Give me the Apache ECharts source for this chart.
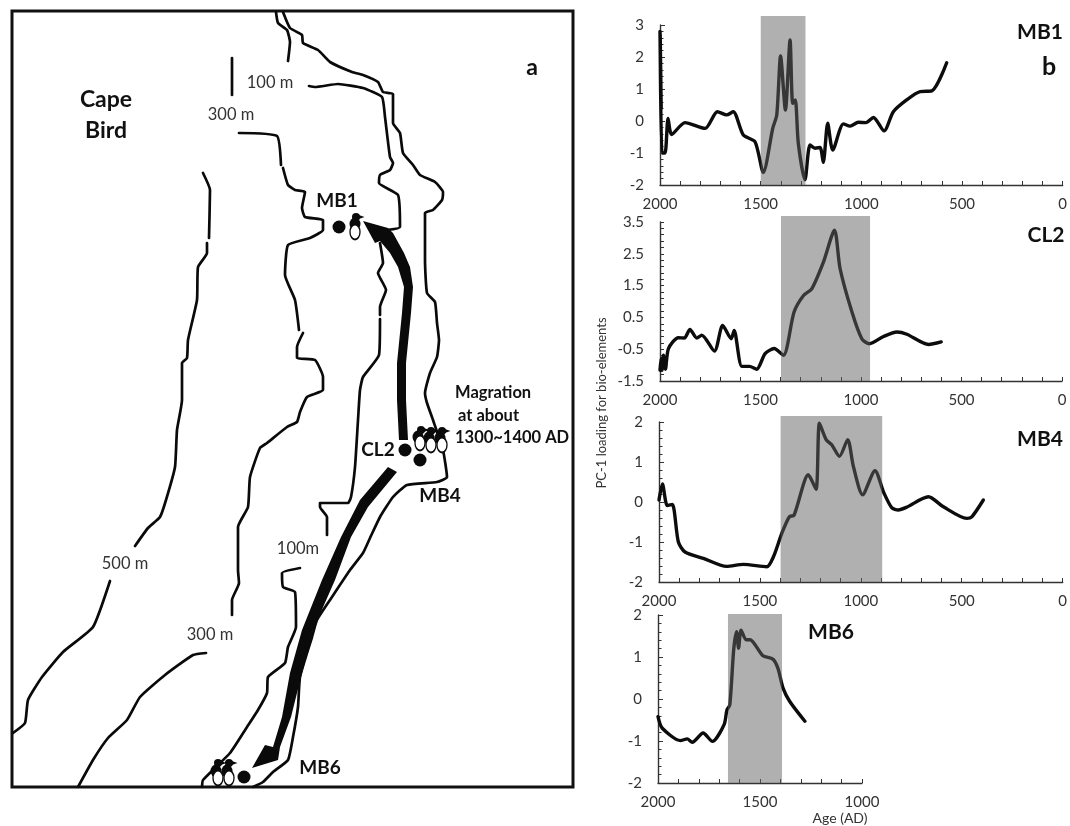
<!DOCTYPE html>
<html><head><meta charset="utf-8">
<style>html,body{margin:0;padding:0;background:#fff}#c{width:1070px;height:826px}</style>
<script src="https://cdn.jsdelivr.net/npm/echarts@6/dist/echarts.min.js"></script>
</head><body><div id="c"></div>
<script>
// ---- panel b: [age AD, PC-1 loading]
const mb1Values=[[2000,2.8],[1997,0.9],[1999,2.7],[1994,0.4],[1998,1.8],[1990,-1],[1975,-1],[1960,0.08],[1942,-0.42],[1876,-0.05],[1776,-0.23],[1715,0.29],[1669,0.19],[1636,0.29],[1586,-0.44],[1528,-0.65],[1487,-1.61],[1440,-0.23],[1420,0.19],[1401,2.03],[1377,0.34],[1354,2.53],[1341,0.55],[1328,0.66],[1313,-0.7],[1280,-1.84],[1255,-0.75],[1230,-0.85],[1205,-0.83],[1189,-1.29],[1167,-0.07],[1142,-0.91],[1089,-0.09],[1056,-0.16],[1015,-0.04],[977,-0.05],[940,0.11],[887,-0.31],[841,0.29],[775,0.66],[708,0.92],[650,0.94],[576,1.82]];
const cl2Values=[[2000,-1.16],[1995,-0.8],[1990,-1.16],[1983,-0.69],[1973,-1.13],[1958,-0.48],[1909,-0.14],[1879,-0.15],[1851,0.12],[1817,-0.15],[1792,-0.06],[1729,-0.56],[1688,0.25],[1646,-0.17],[1631,0.09],[1593,-1.04],[1555,-1.04],[1519,-1.13],[1477,-0.64],[1432,-0.48],[1386,-0.69],[1333,0.67],[1286,1.19],[1245,1.4],[1187,2.24],[1132,3.24],[1104,2.03],[1045,0.67],[996,-0.17],[958,-0.33],[888,-0.1],[821,0.04],[772,-0.03],[664,-0.35],[601,-0.27]];
const mb4Values=[[2000,0.05],[1983,0.45],[1959,-0.09],[1934,-0.06],[1904,-1.0],[1871,-1.25],[1780,-1.41],[1665,-1.61],[1582,-1.56],[1466,-1.62],[1433,-1.37],[1392,-0.79],[1354,-0.37],[1331,-0.33],[1260,0.68],[1222,0.32],[1205,1.97],[1172,1.56],[1144,1.43],[1106,1.14],[1065,1.56],[1037,0.89],[991,0.18],[930,0.78],[885,0.22],[847,-0.14],[814,-0.2],[773,-0.13],[665,0.13],[591,-0.12],[475,-0.41],[450,-0.37],[393,0.05]];
const mb6Values=[[2000,-0.42],[1980,-0.69],[1890,-0.99],[1857,-0.95],[1832,-1.03],[1779,-0.81],[1733,-1.01],[1676,-0.61],[1662,-0.26],[1648,-0.14],[1629,1.17],[1615,1.6],[1605,1.21],[1593,1.64],[1568,1.41],[1549,1.41],[1486,1.03],[1437,0.95],[1412,0.73],[1387,0.26],[1354,-0.06],[1280,-0.53]];
const mb1Band=[1500,1278];
const cl2Band=[1398,955];
const mb4Band=[1398,895];
const mb6Band=[1657,1392];
const cl2YLabels=[-1.5,-0.5,0.5,1.5,2.5,3.5];
const cl2YTicks=[-1.5,-1.3,-1.1,-0.9,-0.7,-0.5,-0.3,-0.1,0.1,0.3,0.5,0.7,0.9,1.1,1.3,1.5,1.7,1.9,2.1,2.3,2.5,2.7,2.9,3.1,3.3,3.5];
// ---- panel a: traced contours in map units
const contourA=[[276,12],[278,23],[287,30],[290,42],[288,61]];
const contourB=[[283,12],[290,28],[302,35],[303,43],[318,50],[330,62],[352,72],[363,75],[378,82],[383,92],[393,94],[393,123],[400,133],[403,153],[413,165],[420,175],[435,182],[443,192],[442,200],[433,210],[425,213],[425,260],[427,293],[435,302],[437,323],[439,340],[437,357],[430,373],[425,393],[427,403],[433,420],[443,450],[447,477],[437,482],[407,485],[393,497],[380,517],[370,538],[363,553],[350,570],[330,600],[317,620],[312,637],[300,677],[298,707],[293,737],[288,760],[273,772],[263,782],[253,787]];
const contourC1=[[309,86],[315,87],[338,84],[363,88],[382,97],[385,117],[390,157],[393,163],[390,170],[380,175],[379,183],[398,195],[400,227],[387,230]];
const contourC2=[[380,243],[383,263],[378,273],[386,290],[380,307],[380,315]];
const contourC3=[[380,319],[379,355],[363,377],[360,390],[358,420],[355,467],[351,497],[348,503],[320,503],[320,507],[327,517],[327,535]];
const contourC4=[[300,568],[282,573],[283,587],[295,592],[296,627],[288,647],[285,663],[268,677],[267,693],[258,710],[247,727],[230,753],[203,780],[202,787]];
const contourD1=[[232,58],[232,95]];
const contourD2=[[239,133],[277,136],[281,165]];
const contourD3=[[283,168],[288,185],[295,190],[305,192],[302,208],[305,217],[323,220],[323,230],[310,238],[288,245],[285,275],[295,300],[299,330]];
const contourD4=[[303,333],[297,347],[297,358],[315,360],[323,377],[323,390],[307,397],[300,412],[297,422],[287,427],[267,443],[260,448],[250,477],[248,507],[238,527],[238,570],[239,583],[232,600],[232,615]];
const contourD5=[[206,653],[193,655],[165,675],[140,697],[127,720],[108,738],[93,760],[78,787]];
const contourE1=[[203,173],[210,190],[209,238]];
const contourE2=[[207,243],[207,253],[198,267],[197,300],[188,340],[187,358],[182,363],[182,400],[177,430],[175,467],[166,500],[160,517],[148,528],[135,546]];
const contourE3=[[110,581],[93,627],[63,652],[42,677],[28,700],[25,723],[13,733]];
const arrowNorth=[[399,440],[397,400],[397,363],[402,313],[404,287],[398,267],[390,253],[380,241],[375,243],[363,221],[388,228],[393,233],[404,253],[410,267],[413,287],[411,313],[406,363],[406,400],[408,440]];
const arrowSouth=[[388,467],[360,500],[341,537],[322,580],[302,630],[290,673],[282,717],[273,747],[265,745],[252,768],[278,760],[280,747],[291,717],[302,673],[313,630],[335,580],[351,537],[368,507],[397,472]];
const siteDots=[[339,227],[405,450],[420,460],[244,777]];
const penguinBodies=[[355,232],[420,443],[431,445],[442,445],[218,778],[229,778]];
const penguinHeads=[[356,217],[421,430],[431,431],[442,431],[218,763],[229,763]];
const penguinBacks=[[355,224],[418,437],[429,438],[440,438],[216,771],[227,771]];

const contours=[contourA,contourB,contourC1,contourC2,contourC3,contourC4,contourD1,contourD2,contourD3,contourD4,contourD5,contourE1,contourE2,contourE3];
const TXT='#333';
const FONT='Lato, "Noto Sans", sans-serif';

const panels=[
 {vals:mb1Values,band:mb1Band,top:25,h:160,bandTop:16,left:660,w:403,xmin:0,ymin:-2,ymax:3},
 {vals:cl2Values,band:cl2Band,top:222,h:159,bandTop:216,left:660,w:402,xmin:0,ymin:-1.5,ymax:3.5,custom:true},
 {vals:mb4Values,band:mb4Band,top:422,h:160,bandTop:416,left:659,w:404,xmin:0,ymin:-2,ymax:2},
 {vals:mb6Values,band:mb6Band,top:615,h:168,bandTop:614,left:658,w:204,xmin:1000,ymin:-2,ymax:2}
];

const grid=[{left:12,top:11,width:561,height:776,show:true,borderColor:'#111',borderWidth:3,backgroundColor:'#fff'}];
const xAxis=[{gridIndex:0,type:'value',min:12,max:573,show:false}];
const yAxis=[{gridIndex:0,type:'value',min:11,max:787,inverse:true,show:false}];
const series=[];
const INK='#0a0a0a';

contours.forEach(c=>series.push({type:'line',xAxisIndex:0,yAxisIndex:0,data:c,showSymbol:false,smooth:0.15,lineStyle:{color:INK,width:2.7,cap:'round',join:'round'},silent:true,z:2}));
function polygonSeries(pts){return {type:'custom',xAxisIndex:0,yAxisIndex:0,data:pts,silent:true,z:3,
  renderItem:(p,api)=>{ if(p.dataIndex!==0) return null;
    return {type:'polygon',shape:{points:pts.map(q=>api.coord(q)),smooth:0},style:{fill:INK}};}};}
series.push(polygonSeries(arrowNorth),polygonSeries(arrowSouth));
function dots(data,size,style,z,extra){return Object.assign({type:'scatter',xAxisIndex:0,yAxisIndex:0,data:data,symbol:'circle',symbolSize:size,itemStyle:Object.assign({opacity:1},style),silent:true,z:z},extra||{});}
series.push(dots(siteDots,13,{color:INK},4));
series.push(dots(penguinBacks,[11,13],{color:INK},4));
series.push(dots(penguinBodies,[10,15],{color:'#fff',borderColor:INK,borderWidth:1.6},5));
series.push(dots(penguinHeads,8,{color:INK},5));
series.push(dots(penguinHeads.map(h=>[h[0]+5,h[1]]),[5,7],{color:INK},5,{symbol:'triangle',symbolRotate:-90}));

panels.forEach(p=>{
  const gi=grid.length;
  grid.push({left:p.left,top:p.top,width:p.w,height:p.h});
  xAxis.push({gridIndex:gi,type:'value',inverse:true,min:p.xmin,max:2000,interval:100,
    axisLine:{onZero:false,lineStyle:{color:'#333',width:1.4}},
    axisTick:{show:true,inside:true,length:4,lineStyle:{color:'#333',width:1}},
    splitLine:{show:false},
    axisLabel:{margin:12,fontSize:15,color:TXT,fontFamily:FONT,formatter:v=>v%500===0?String(v):''}});
  const ya={gridIndex:gi,type:'value',min:p.ymin,max:p.ymax,
    axisLine:{show:true,onZero:false,lineStyle:{color:'#333',width:1.4}},
    axisTick:{show:true,inside:true,length:5,lineStyle:{color:'#333',width:1}},
    splitLine:{show:false},
    axisLabel:{margin:16,fontSize:15,color:TXT,fontFamily:FONT}};
  if(p.custom){
    ya.axisLabel.customValues=cl2YLabels; ya.axisTick.customValues=cl2YTicks; ya.axisTick.length=4;
  } else {
    ya.interval=1; ya.minorTick={show:true,splitNumber:5,length:3.5,lineStyle:{color:'#333',width:1}};
  }
  yAxis.push(ya);
  series.push({type:'line',xAxisIndex:gi,yAxisIndex:gi,data:p.vals,showSymbol:false,smooth:0.25,clip:false,
    lineStyle:{color:'#0c0c0c',width:3.4,join:'round',cap:'round'},silent:true,z:2});
  const bi=grid.length;
  grid.push({left:p.left,top:p.bandTop,width:p.w,height:p.top+p.h-p.bandTop});
  xAxis.push({gridIndex:bi,type:'value',inverse:true,min:p.xmin,max:2000,show:false});
  yAxis.push({gridIndex:bi,type:'value',min:0,max:1,show:false});
  series.push({type:'line',xAxisIndex:bi,yAxisIndex:bi,data:[[p.band[0],0],[p.band[1],0]],showSymbol:false,silent:true,
    lineStyle:{opacity:0},z:1,
    markArea:{silent:true,z:10,itemStyle:{color:'rgba(99,99,99,0.506)'},data:[[{xAxis:p.band[0]},{xAxis:p.band[1]}]]}});
});

function t(text,x,y,size,bold,extra){return Object.assign({type:'text',x:x,y:y,z:20,silent:true,
  style:{text:text,fontSize:size,fontWeight:bold?'bold':'normal',fontFamily:FONT,fill:bold?'#111':TXT,align:'center',verticalAlign:'middle'}},extra||{});}
function tl(text,x,y,size){const o=t(text,x,y,size,true);o.style.align='left';return o;}
const graphic=[
 t('Cape',106,100,23,true),t('Bird',106,131,23,true),
 t('100 m',270,83,16.5,false),t('300 m',231,115,16.5,false),
 t('a',532,68,23,true),
 t('MB1',337,201,19,true),t('CL2',378,450,19,true),t('MB4',440,496,19,true),t('MB6',320,768,19,true),
 tl('Magration',455,393,16.5),tl('at about',458,416,16.5),tl('1300~1400 AD',455,438,16.5),
 t('500 m',125,564,16.5,false),t('300 m',210,635,16.5,false),t('100m',298,549,16.5,false),
 t('MB1',1040,32,21,true),t('b',1049,67,25,true),t('CL2',1046,235,21,true),t('MB4',1040,439,21,true),t('MB6',831,632,21,true),
 t('Age (AD)',840,818,14,false),
 {type:'text',x:602,y:403,rotation:Math.PI/2,z:20,silent:true,style:{text:'PC-1 loading for bio-elements',fontSize:13,fontFamily:FONT,fill:TXT,align:'center',verticalAlign:'middle'}}
];
const chart=echarts.init(document.getElementById('c'),null,{renderer:'canvas'});
chart.setOption({animation:false,backgroundColor:'#fff',grid,xAxis,yAxis,series,graphic});
</script></body></html>
